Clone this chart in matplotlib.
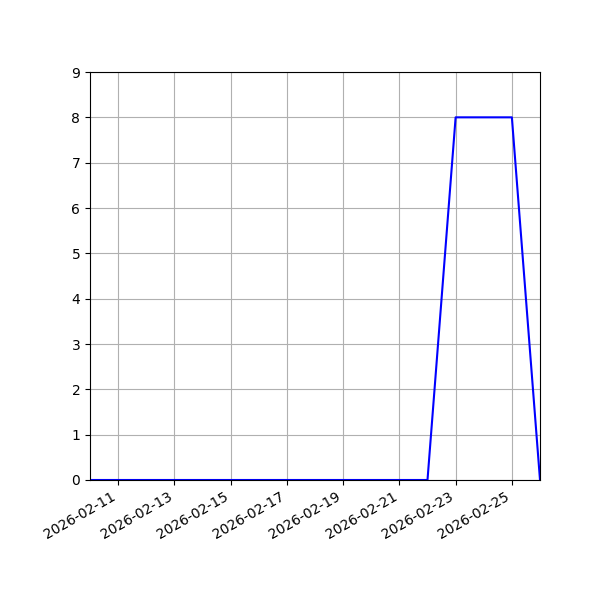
import datetime as dt

import matplotlib
matplotlib.use("Agg")
import matplotlib.pyplot as plt
import matplotlib.dates as mdates

# daily counts
dates = [dt.date(2026, 2, d) for d in range(10, 27)]
counts = [0, 0, 0, 0, 0, 0, 0, 0, 0, 0, 0, 0, 0, 8, 8, 8, 0]

fig, ax = plt.subplots(figsize=(6, 6), dpi=100)
ax.plot(dates, counts, color="blue", linewidth=1.5)
ax.set_xlim(dates[0], dates[-1])
ax.set_ylim(0, 9)
ax.xaxis.set_major_locator(mdates.DayLocator(bymonthday=range(11, 27, 2)))
ax.xaxis.set_major_formatter(mdates.DateFormatter("%Y-%m-%d"))
ax.grid(True)
fig.autofmt_xdate()
fig.subplots_adjust(left=0.15, right=0.9, top=0.88, bottom=0.2)
fig.savefig("out.png", dpi=100)
